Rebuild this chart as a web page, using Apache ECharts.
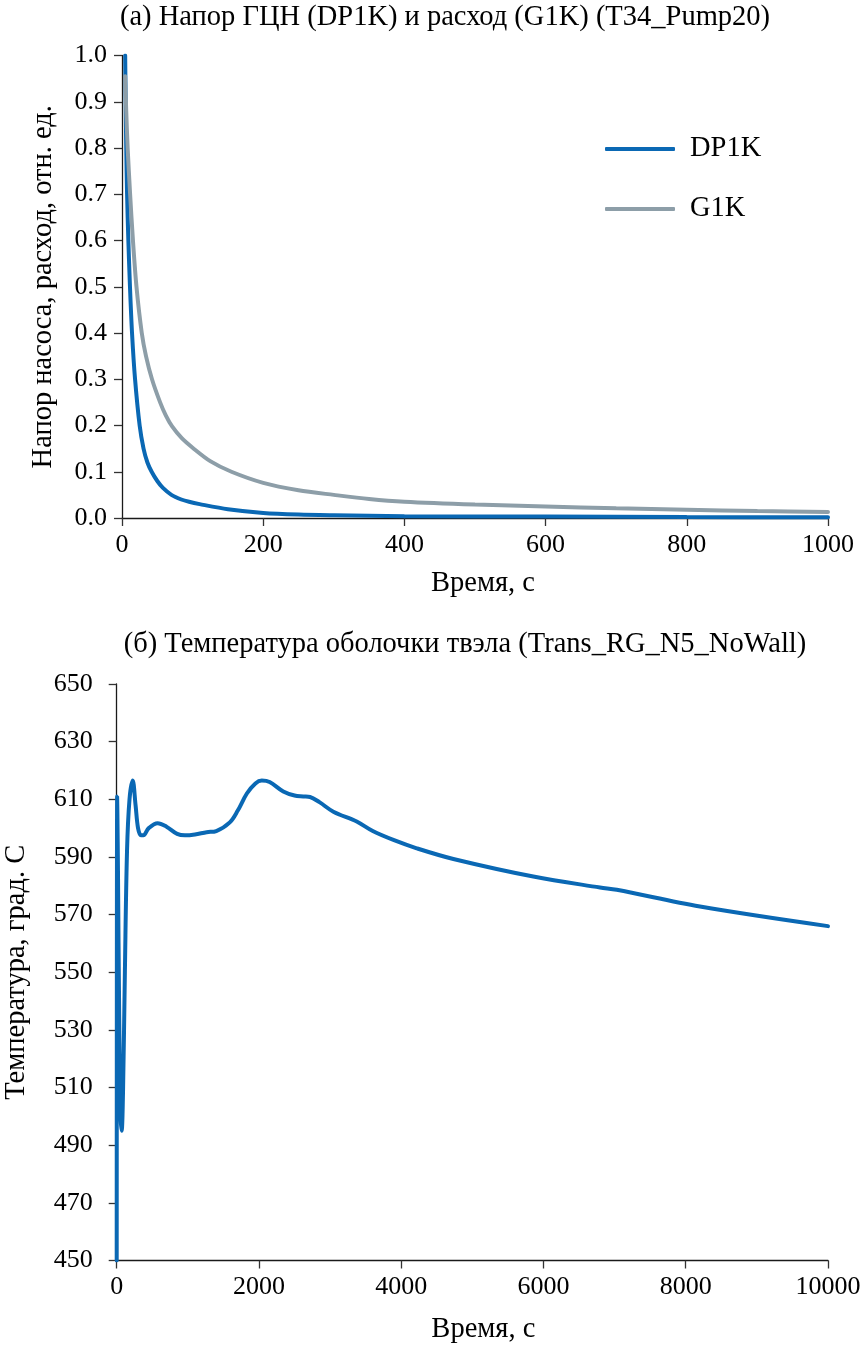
<!DOCTYPE html>
<html>
<head>
<meta charset="utf-8">
<script src="https://cdn.jsdelivr.net/npm/echarts@6/dist/echarts.min.js"></script>
<style>
  html, body { margin: 0; padding: 0; background: #fff; }
  #chart { width: 864px; height: 1345px; }
</style>
</head>
<body>
<div id="chart"></div>
<script>
// (а) pump head DP1K and flow G1K, relative units vs time, s
const pumpTime = [4.5, 5.2, 6, 7.2, 9, 11.3, 14.2, 18.5, 25, 30.5, 36, 42, 50, 58, 70, 84, 95, 110, 150, 200, 250, 300, 400, 600, 800, 1000];
const dp1k     = [1.0, 0.9, 0.8, 0.7, 0.6, 0.5, 0.4, 0.3, 0.2, 0.15, 0.12, 0.1, 0.08, 0.065, 0.05, 0.04, 0.035, 0.03, 0.019, 0.011, 0.0075, 0.006, 0.004, 0.003, 0.002, 0.0015];
const flowTime = [4.5, 6, 8, 11.5, 15.5, 20.5, 28, 34, 42.5, 54, 62, 71, 85, 100, 125, 155, 200, 250, 300, 350, 400, 500, 600, 700, 800, 900, 1000];
const g1k      = [0.955, 0.88, 0.8, 0.7, 0.6, 0.5, 0.4, 0.35, 0.3, 0.25, 0.222, 0.198, 0.172, 0.152, 0.123, 0.1, 0.076, 0.06, 0.05, 0.041, 0.035, 0.029, 0.025, 0.021, 0.018, 0.015, 0.013];

// (б) cladding temperature, deg C vs time, s
const cladTime = [0, 6, 10, 18, 35, 55, 70, 90, 115, 145, 180, 225, 265, 300, 340, 375, 450, 575, 700, 850, 960, 1100, 1265, 1400, 1590, 1700, 1830, 1950, 2040, 2150, 2342, 2500, 2624, 2718, 2850, 3046, 3374, 3600, 3890, 4218, 4733, 5857, 6795, 7030, 8200, 10000];
const cladTemp = [450, 611, 605, 585, 535, 500, 495, 510, 550, 592, 610, 616.5, 608, 600, 597.5, 597.5, 600, 601.7, 600.5, 598, 597.5, 597.8, 598.6, 599, 602, 606, 612, 615.5, 616.5, 616, 612.7, 611.3, 611, 610.8, 609, 605.7, 602.3, 599, 595.9, 593, 589.3, 583.2, 579.4, 578.6, 572.8, 566];

const pumpTicks = { min: 0, max: 1000, interval: 200 };
const relTicks  = { min: 0, max: 1, interval: 0.1 };
const cladTicks = { min: 0, max: 10000, interval: 2000 };
const tempTicks = { min: 450, max: 650, interval: 20 };

const seriesNames = ['DP1K', 'G1K'];
const titles = [
  '(а) Напор ГЦН (DP1K) и расход (G1K) (T34_Pump20)',
  '(б) Температура оболочки твэла (Trans_RG_N5_NoWall)'
];
const xName = 'Время, с';
const yNames = ['Напор насоса, расход, отн. ед.', 'Температура, град. С'];

const FONT = '"Liberation Serif", "Times New Roman", serif';
const BLUE = '#0a68b4';
const GRAY = '#8d9ea8';
const TEXT_SIZE = 28.5;
const TICK_SIZE = 26;

const zip = (xs, ys) => xs.map((x, i) => [x, ys[i]]);

const axisLine = { show: true, lineStyle: { color: '#1a1a1a', width: 1.3 } };
const axisTick = { show: true, length: 8, lineStyle: { color: '#333', width: 1.3 } };
const labelStyle = { color: '#000', fontFamily: FONT, fontSize: TICK_SIZE };
const nameStyle = { color: '#000', fontFamily: FONT, fontSize: TEXT_SIZE };

const chart = echarts.init(document.getElementById('chart'), null, { renderer: 'canvas' });

chart.setOption({
  animation: false,
  backgroundColor: '#fff',
  graphic: [
    { type: 'text', x: 445, y: 18, style: { text: titles[0], font: TEXT_SIZE + 'px ' + FONT, fill: '#000', textAlign: 'center', textVerticalAlign: 'middle' } },
    { type: 'text', x: 465, y: 645, style: { text: titles[1], font: TEXT_SIZE + 'px ' + FONT, fill: '#000', textAlign: 'center', textVerticalAlign: 'middle' } }
  ],
  legend: {
    orient: 'vertical',
    left: 600,
    top: 127,
    icon: 'roundRect',
    itemWidth: 70,
    itemHeight: 4,
    itemGap: 26,
    data: seriesNames,
    textStyle: { color: '#000', fontFamily: FONT, fontSize: TEXT_SIZE, lineHeight: 34, padding: [0, 0, 0, 10] }
  },
  grid: [
    { left: 122, top: 55.5, width: 706, height: 462.5, containLabel: false, outerBoundsMode: 'none' },
    { left: 116.7, top: 684, width: 711.3, height: 576.5, containLabel: false, outerBoundsMode: 'none' }
  ],
  xAxis: [
    {
      type: 'value', gridIndex: 0, min: pumpTicks.min, max: pumpTicks.max, interval: pumpTicks.interval,
      splitLine: { show: false }, axisLine, axisTick,
      axisLabel: { ...labelStyle, margin: 14, formatter: v => String(v) },
      name: xName, nameLocation: 'middle', nameGap: 51,
      nameTextStyle: { ...nameStyle, padding: [0, 0, 0, 16] }
    },
    {
      type: 'value', gridIndex: 1, min: cladTicks.min, max: cladTicks.max, interval: cladTicks.interval,
      splitLine: { show: false }, axisLine, axisTick,
      axisLabel: { ...labelStyle, margin: 14, formatter: v => String(v) },
      name: xName, nameLocation: 'middle', nameGap: 55,
      nameTextStyle: { ...nameStyle, padding: [0, 0, 0, 22] }
    }
  ],
  yAxis: [
    {
      type: 'value', gridIndex: 0, min: relTicks.min, max: relTicks.max, interval: relTicks.interval,
      splitLine: { show: false }, axisLine, axisTick,
      axisLabel: { ...labelStyle, margin: 15, formatter: v => v.toFixed(1) },
      name: yNames[0], nameLocation: 'middle', nameGap: 64, nameTextStyle: nameStyle
    },
    {
      type: 'value', gridIndex: 1, min: tempTicks.min, max: tempTicks.max, interval: tempTicks.interval,
      splitLine: { show: false }, axisLine, axisTick,
      axisLabel: { ...labelStyle, margin: 24, formatter: v => String(v) },
      name: yNames[1], nameLocation: 'middle', nameGap: 86, nameTextStyle: nameStyle
    }
  ],
  series: [
    {
      name: seriesNames[0], type: 'line', xAxisIndex: 0, yAxisIndex: 0,
      data: zip(pumpTime, dp1k), showSymbol: false, symbol: 'none',
      smooth: 0.3,
      lineStyle: { color: BLUE, width: 4, cap: 'round' }, itemStyle: { color: BLUE }
    },
    {
      name: seriesNames[1], type: 'line', xAxisIndex: 0, yAxisIndex: 0,
      data: zip(flowTime, g1k), showSymbol: false, symbol: 'none',
      smooth: 0.3,
      lineStyle: { color: GRAY, width: 4, cap: 'round' }, itemStyle: { color: GRAY }
    },
    {
      name: 'T', type: 'line', xAxisIndex: 1, yAxisIndex: 1,
      data: zip(cladTime, cladTemp), showSymbol: false, symbol: 'none',
      smooth: 0.35,
      lineStyle: { color: BLUE, width: 4, cap: 'round' }, itemStyle: { color: BLUE }
    }
  ]
});
</script>
</body>
</html>
